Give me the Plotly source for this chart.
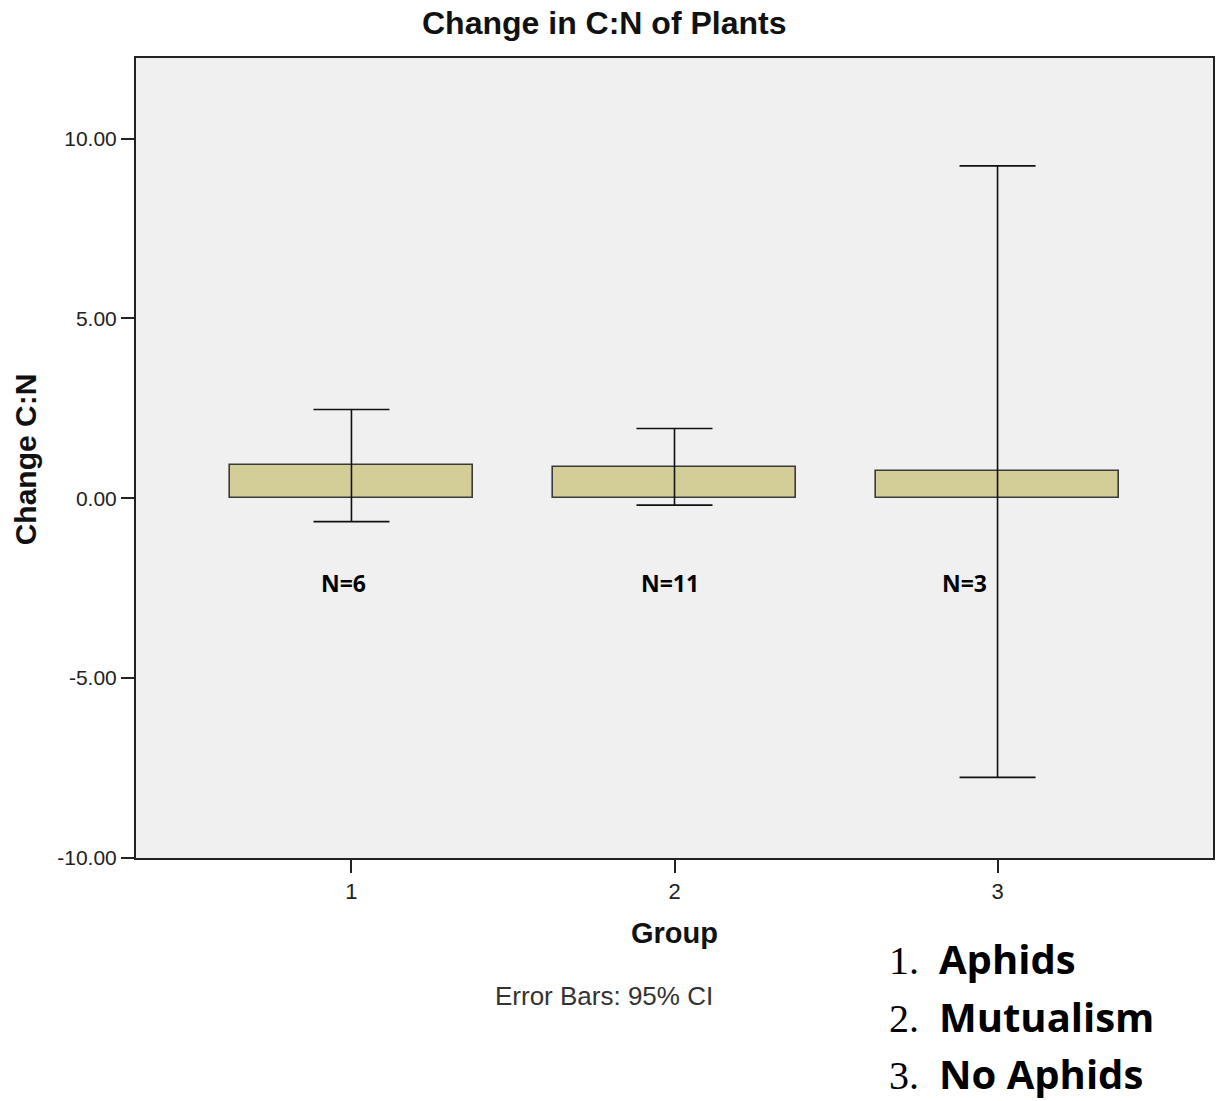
import plotly.graph_objects as go

# ---- data ----
groups = [1, 2, 3]
means = [0.925, 0.87, 0.76]
ci_upper = [2.47, 1.94, 9.24]
ci_lower = [-0.65, -0.19, -7.76]
n_labels = ["N=6", "N=11", "N=3"]
n_label_x = [0.974, 1.986, 2.897]
n_label_y = [-2.35, -2.35, -2.35]
y_tickvals = [-10, -5, 0, 5, 10]
y_ticktext = ["-10.00", "-5.00", "0.00", "5.00", "10.00"]
legend_nums = ["1.", "2.", "3."]
legend_names = ["Aphids", "Mutualism", "No Aphids"]

err_plus = [u - m for u, m in zip(ci_upper, means)]
err_minus = [m - l for m, l in zip(means, ci_lower)]

W_FIG, H_FIG = 1219, 1101
L, R, T, B = 136, 1215, 57.5, 858.3
PW, PH = R - L, B - T


def px(x):
    return (x - L) / PW


def py(y):
    return (B - y) / PH


fig = go.Figure()
fig.add_trace(go.Bar(
    x=groups, y=means, width=0.753,
    marker=dict(color="#d3ce98", line=dict(color="#3a3a3a", width=1.6)),
    error_y=dict(type="data", symmetric=False, array=err_plus, arrayminus=err_minus,
                 color="#111111", thickness=1.6, width=38),
    showlegend=False, hoverinfo="skip",
))

annotations = []
for t, xx, yy in zip(n_labels, n_label_x, n_label_y):
    annotations.append(dict(x=xx, y=yy, xref="x", yref="y", text="<b>" + t + "</b>",
                            showarrow=False, font=dict(family="Open Sans", size=23, color="#000"),
                            xanchor="center", yanchor="middle"))

# title
annotations.append(dict(x=px(604.5), y=py(22), xref="paper", yref="paper",
                        text="<b>Change in C:N of Plants</b>", showarrow=False,
                        font=dict(family="Liberation Sans", size=32, color="#111"),
                        xanchor="center", yanchor="middle"))
# y-axis title
annotations.append(dict(x=px(25), y=py(459), xref="paper", yref="paper",
                        text="<b>Change C:N</b>", showarrow=False, textangle=-90,
                        font=dict(family="Liberation Sans", size=30, color="#111"),
                        xanchor="center", yanchor="middle"))
# x-axis title
annotations.append(dict(x=px(676), y=py(933), xref="paper", yref="paper",
                        text="<b>Group</b>", showarrow=False,
                        font=dict(family="Liberation Sans", size=29, color="#111"),
                        xanchor="center", yanchor="middle"))
# footnote
annotations.append(dict(x=px(604.5), y=py(996), xref="paper", yref="paper",
                        text="Error Bars: 95% CI", showarrow=False,
                        font=dict(family="Liberation Sans", size=26, color="#333"),
                        xanchor="center", yanchor="middle"))
# group legend
legend_y = [959, 1017, 1074]
for num, name, yy in zip(legend_nums, legend_names, legend_y):
    annotations.append(dict(
        x=px(888), y=py(yy), xref="paper", yref="paper",
        text="<span style='font-family:Liberation Serif'>" + num + "&nbsp; </span><b>" + name + "</b>",
        showarrow=False, font=dict(family="Open Sans", size=40, color="#000"),
        xanchor="left", yanchor="middle"))

fig.update_layout(
    width=W_FIG, height=H_FIG,
    margin=dict(l=L, r=W_FIG - R, t=T, b=H_FIG - B, pad=0),
    paper_bgcolor="white", plot_bgcolor="#f0f0f0",
    annotations=annotations,
    bargap=0,
)
fig.update_xaxes(range=[0.333, 3.667], tickvals=groups, ticktext=[str(g) for g in groups],
                 ticks="outside", ticklen=13, tickwidth=1.5, tickcolor="#222",
                 showline=True, linecolor="#222", linewidth=2, mirror=True,
                 showgrid=False, zeroline=False,
                 tickfont=dict(family="Liberation Sans", size=22, color="#222"))
fig.update_yaxes(range=[-10, 12.24], tickvals=y_tickvals, ticktext=y_ticktext,
                 ticks="outside", ticklen=13, tickwidth=1.5, tickcolor="#222",
                 showline=True, linecolor="#222", linewidth=2, mirror=True,
                 showgrid=False, zeroline=False,
                 tickfont=dict(family="Liberation Sans", size=21, color="#222"))

fig.write_html("out.html", config={"displayModeBar": False},
               post_script="document.body.style.margin='0px';document.body.style.overflow='hidden';")
